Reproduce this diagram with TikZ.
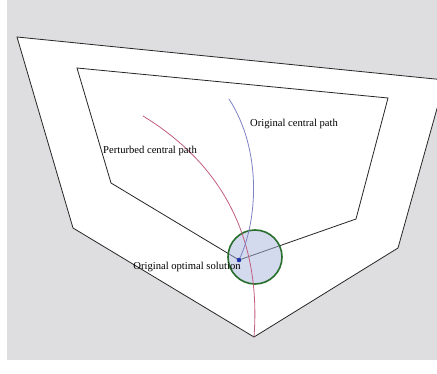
\documentclass[tikz,border=0pt]{standalone}
\usepackage{fontspec}
\setmainfont{Liberation Serif}
\definecolor{bggray}{RGB}{222,222,224}
\definecolor{redc}{RGB}{195,95,130}
\definecolor{bluec}{RGB}{125,130,195}
\definecolor{greenc}{RGB}{40,110,45}
\definecolor{ballfill}{RGB}{170,182,220}
\definecolor{dotc}{RGB}{30,50,170}
\begin{document}
\begin{tikzpicture}[x=1pt,y=-1pt,
  poly/.style={draw=black!85, line width=0.8pt, line join=miter},
  lbl/.style={font=\fontsize{10.6}{12}\selectfont, inner sep=0pt},
  redpath/.style={draw=redc, line width=0.8pt},
  bluepath/.style={draw=bluec, line width=0.8pt}]
\useasboundingbox (0,0) rectangle (437,374);
\fill[white] (0,0) rectangle (437,374);
\fill[bggray] (7,0) rectangle (437,360);
\begin{scope}
\clip (0,0) rectangle (437,374);
\draw[poly, fill=white] (17,37) -- (445,80) -- (398,248) -- (254,337) -- (73,228) -- cycle;
\end{scope}
\coordinate (opt) at (239,260);
\draw[poly] (77,68) -- (388,98) -- (356,219) -- (opt) -- (111,183) -- cycle;
\node[circle, minimum size=54pt, inner sep=0pt, draw=greenc, line width=1.6pt,
  fill=ballfill, fill opacity=0.5] (ball) at (255,257) {};
\coordinate (rs) at (143,116);
\coordinate (re) at (254,337);
\draw[redpath] (rs) .. controls (215,160) and (262,230) .. (re);
\coordinate (bs) at (229,99);
\draw[bluepath] (bs) .. controls (262,150) and (258,220) .. (opt);
\fill[dotc] (opt) circle (2.3pt);
\node[lbl] (l1) at (294,124) {Original central path};
\node[lbl] (l2) at (150,151) {Perturbed central path};
\node[lbl] (l3) at (187,267) {Original optimal solution};
\end{tikzpicture}
\end{document}
